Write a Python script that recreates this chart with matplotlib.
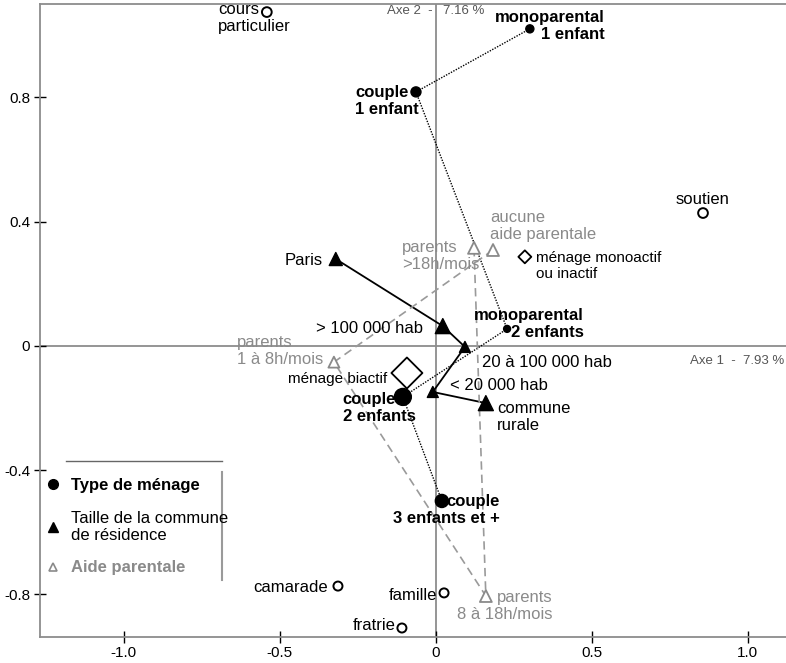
import matplotlib
matplotlib.use('Agg')
import matplotlib.pyplot as plt

plt.rcParams['font.family'] = ['Liberation Sans', 'DejaVu Sans']

# Type de ménage (points noirs, reliés en pointillé)
menage = ['monoparental\n1 enfant', 'couple\n1 enfant', 'monoparental\n2 enfants',
          'couple\n2 enfants', 'couple\n3 enfants et +']
menage_x = [0.301, -0.064, 0.228, -0.106, 0.019]
menage_y = [1.021, 0.818, 0.055, -0.164, -0.499]

# Taille de la commune de résidence (triangles noirs, trait plein)
commune = ['Paris', '> 100 000 hab', '20 à 100 000 hab', '< 20 000 hab', 'commune\nrurale']
commune_x = [-0.321, 0.022, 0.093, -0.010, 0.160]
commune_y = [0.280, 0.064, -0.003, -0.148, -0.184]

# Aide parentale (triangles gris, tirets)
aide = ['aucune\naide parentale', 'parents\n1 à 8h/mois', 'parents\n8 à 18h/mois', 'parents\n>18h/mois']
aide_x = [0.183, -0.327, 0.160, 0.122]
aide_y = [0.309, -0.052, -0.805, 0.316]

# activité du ménage (losanges)
activite = ['ménage biactif', 'ménage monoactif\nou inactif']
activite_x = [-0.093, 0.285]
activite_y = [-0.087, 0.287]

# variables supplémentaires (cercles vides)
autres = ['cours\nparticulier', 'soutien', 'camarade', 'famille', 'fratrie']
autres_x = [-0.542, 0.856, -0.314, 0.026, -0.109]
autres_y = [1.075, 0.428, -0.773, -0.795, -0.908]

xticks = [-1.0, -0.5, 0, 0.5, 1.0]
xticklabels = ['-1.0', '-0.5', '0', '0.5', '1.0']
yticks = [-0.8, -0.4, 0, 0.4, 0.8]
yticklabels = ['-0.8', '-0.4', '0', '0.4', '0.8']

# tailles des marqueurs (points)
menage_ms = [5.8, 7.2, 5.0, 12.2, 9.4]
commune_ms = [9.4, 10.8, 7.9, 7.9, 10.8]
aide_ms = [8.6, 7.9, 8.6, 8.6]
activite_ms = [15.8, 6.6]
autres_ms = [7.0, 7.0, 6.5, 6.5, 6.5]

# placement des étiquettes : décalage en pixels (dx, dy vers le bas jusqu'à la ligne de base), alignement
label_pos = {
    'monoparental\n1 enfant': (75, -7, 'right'),
    'couple\n1 enfant': (-61, 5, 'left'),
    'monoparental\n2 enfants': (77, -9, 'right'),
    'couple\n2 enfants': (-60, 7, 'left'),
    'couple\n3 enfants et +': (58, 5, 'right'),
    'Paris': (-13, 6, 'right'),
    '> 100 000 hab': (-20, 7, 'right'),
    '20 à 100 000 hab': (17, 20, 'left'),
    '< 20 000 hab': (17, -2, 'left'),
    'commune\nrurale': (11, 10, 'left'),
    'aucune\naide parentale': (-3, -28, 'left'),
    'parents\n1 à 8h/mois': (-97, -15, 'left'),
    'parents\n8 à 18h/mois': (67, 6, 'right'),
    'parents\n>18h/mois': (-72, 4, 'left'),
    'ménage biactif': (-20, 10, 'right'),
    'ménage monoactif\nou inactif': (11, 5, 'left'),
    'cours\nparticulier': (-49, 2, 'left'),
    'soutien': (0, -9, 'center'),
    'camarade': (-10, 6, 'right'),
    'famille': (-7, 7, 'right'),
    'fratrie': (-6, 2, 'right'),
}

GRIS = '#8a8a8a'

fig = plt.figure(figsize=(7.86, 6.63), dpi=100)
ax = fig.add_axes([40 / 786, 26.3 / 663, 746 / 786, 632.7 / 663])
ax.set_xlim(-1.269, 1.122)
ax.set_ylim(-0.936, 1.101)


def etiquette(texte, x, y, size=12, color='black', weight='normal'):
    dx, dy, ha = label_pos[texte]
    asc = 0.73 * size * 100 / 72
    ax.annotate(texte, (x, y), xytext=(dx, asc - dy), textcoords='offset pixels',
                ha=ha, va='top', fontsize=size, color=color, fontweight=weight,
                linespacing=1.2, multialignment=ha, zorder=5)


# axes factoriels
ax.axhline(0, color='#8c8c8c', lw=1.3, zorder=1)
ax.axvline(0, color='#8c8c8c', lw=1.3, zorder=1)

# lignes de liaison
ax.plot(menage_x, menage_y, color='black', lw=1.0, dashes=(1, 1), zorder=2)
ax.plot(commune_x, commune_y, color='black', lw=1.3, zorder=2)
ax.plot(aide_x, aide_y, color='#9a9a9a', lw=1.2, dashes=(5, 3), zorder=2)

# marqueurs (losanges sous les points du type de ménage)
ax.scatter(activite_x, activite_y, s=[m ** 2 for m in activite_ms], marker='D', facecolor='white',
           edgecolor='black', linewidth=1.3, zorder=2.5)
ax.scatter(menage_x, menage_y, s=[m ** 2 for m in menage_ms], marker='o', color='black', zorder=3)
ax.scatter(commune_x, commune_y, s=[m ** 2 for m in commune_ms], marker='^', color='black', zorder=3)
ax.scatter(aide_x, aide_y, s=[m ** 2 for m in aide_ms], marker='^', facecolor='white',
           edgecolor=GRIS, linewidth=1.3, zorder=3)
ax.scatter(autres_x, autres_y, s=[m ** 2 for m in autres_ms], marker='o', facecolor='white',
           edgecolor='black', linewidth=1.4, zorder=3)

for t, x, y in zip(menage, menage_x, menage_y):
    etiquette(t, x, y, weight='bold')
for t, x, y in zip(commune, commune_x, commune_y):
    etiquette(t, x, y)
for t, x, y in zip(aide, aide_x, aide_y):
    etiquette(t, x, y, color=GRIS)
for t, x, y in zip(activite, activite_x, activite_y):
    etiquette(t, x, y, size=11)
for t, x, y in zip(autres, autres_x, autres_y):
    etiquette(t, x, y)

# noms des axes
ax.annotate('Axe 1  -  7.93 %', (1, 0), xycoords=('axes fraction', 'data'), xytext=(-2, -18),
            textcoords='offset pixels', ha='right', va='baseline', fontsize=9.5, color='#555555')
ax.annotate('Axe 2  -', (0, 1), xycoords=('data', 'axes fraction'), xytext=(-3, -10),
            textcoords='offset pixels', ha='right', va='baseline', fontsize=9.5, color='#555555')
ax.annotate('7.16 %', (0, 1), xycoords=('data', 'axes fraction'), xytext=(7, -10),
            textcoords='offset pixels', ha='left', va='baseline', fontsize=9.5, color='#555555')

# cadre et graduations
for s in ['left', 'bottom', 'top']:
    ax.spines[s].set_color('#8c8c8c')
    ax.spines[s].set_linewidth(1.3)
ax.spines['right'].set_visible(False)
ax.set_xticks(xticks)
ax.set_xticklabels(xticklabels)
ax.set_yticks(yticks)
ax.set_yticklabels(yticklabels)
ax.tick_params(direction='inout', length=8, width=1, color='black', labelsize=11, pad=3)

# légende dessinée à la main
def fx(px):
    return px / 786


def fy(py):
    return 1 - py / 663


fig.add_artist(plt.Line2D([fx(66), fx(222)], [fy(461), fy(461)], color='#666666', lw=1))
fig.add_artist(plt.Line2D([fx(222), fx(222)], [fy(472), fy(580)], color='#9a9a9a', lw=1.5))
fig.add_artist(plt.Line2D([fx(53)], [fy(484)], marker='o', ms=7, color='black', lw=0))
fig.add_artist(plt.Line2D([fx(53)], [fy(527)], marker='^', ms=6.5, color='black', lw=0))
fig.add_artist(plt.Line2D([fx(53)], [fy(567)], marker='^', ms=5.5, color='white', mec=GRIS, mew=1.2, lw=0))
fig.text(fx(71), fy(490), 'Type de ménage', fontsize=12, fontweight='bold', va='baseline')
fig.text(fx(71), fy(523) + 12 / 663, 'Taille de la commune\nde résidence', fontsize=12, va='top',
         linespacing=1.2)
fig.text(fx(71), fy(572), 'Aide parentale', fontsize=12, fontweight='bold', color=GRIS, va='baseline')

fig.savefig('out.png', dpi=100)
